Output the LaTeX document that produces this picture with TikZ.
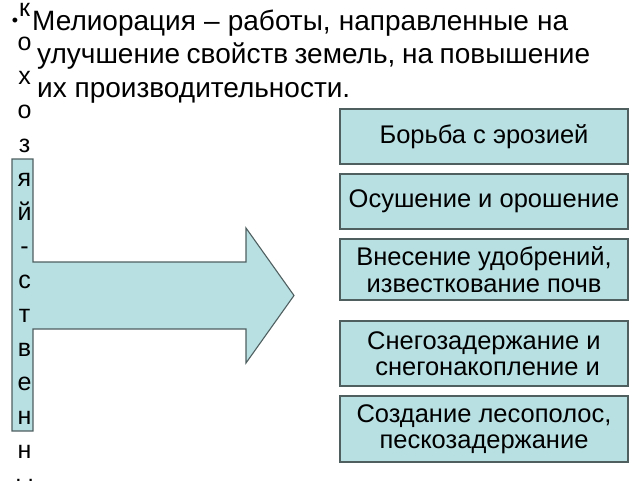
\documentclass[tikz,border=0pt]{standalone}
\usepackage{fontspec}
\setmainfont{Liberation Sans}
\definecolor{boxfill}{HTML}{B8DFE2}
\definecolor{boxline}{HTML}{4F5F60}
\tikzset{
  mbox/.style={draw=boxline, line width=1.1pt, fill=boxfill, minimum width=288pt, inner sep=1pt,
    align=center, font=\fontsize{25.5}{26.5}\selectfont},
  ttl/.style={anchor=base west, inner sep=0pt, font=\fontsize{28}{32}\selectfont},
  vl/.style={anchor=base, inner sep=0pt, font=\fontsize{25}{27}\selectfont}
}
\begin{document}
\begin{tikzpicture}[x=1pt,y=-1pt]
\useasboundingbox (0,0) rectangle (640,480);
\clip (0,0) rectangle (640,480);
% arrow with vertical bar
\draw[boxline, line width=1.1pt, fill=boxfill, line join=miter]
  (12,159) -- (33,159) -- (33,262) -- (246,262) -- (246,228) -- (294,295.5)
  -- (246,363) -- (246,329) -- (33,329) -- (33,431) -- (12,431) -- cycle;
% vertical letters
\foreach \l [count=\i from 0] in {к,о,х,о,з,я,й,-,с,т,в,е,н,н,ы}{
  \node[vl] (v\i) at (24.5, {16+34*\i}) {\l};
}
% title
\node[anchor=center, inner sep=0pt, font=\fontsize{18}{20}\selectfont] (bul) at (15,22) {•};
\node[ttl] (t1) at (32,30) {\makebox[536pt][s]{Мелиорация – работы, направленные на}};
\node[ttl] (t2) at (37,63.5) {\makebox[553pt][s]{улучшение свойств земель, на повышение}};
\node[ttl] (t3) at (37,97) {их производительности.};
% boxes
\node[mbox, minimum height=55pt] (b1) at (484,136.5) {Борьба с эрозией};
\node[mbox, minimum height=55pt] (b2) at (484,201.5) {Осушение и орошение};
\node[mbox, minimum height=61pt] (b3) at (484,269.5) {Внесение удобрений,\\известкование почв};
\node[mbox, minimum height=65pt] (b4) at (484,353.5) {Снегозадержание и\\\mbox{}\ снегонакопление и};
\node[mbox, minimum height=66pt] (b5) at (484,429) {Создание лесополос,\\пескозадержание};
\end{tikzpicture}
\end{document}
